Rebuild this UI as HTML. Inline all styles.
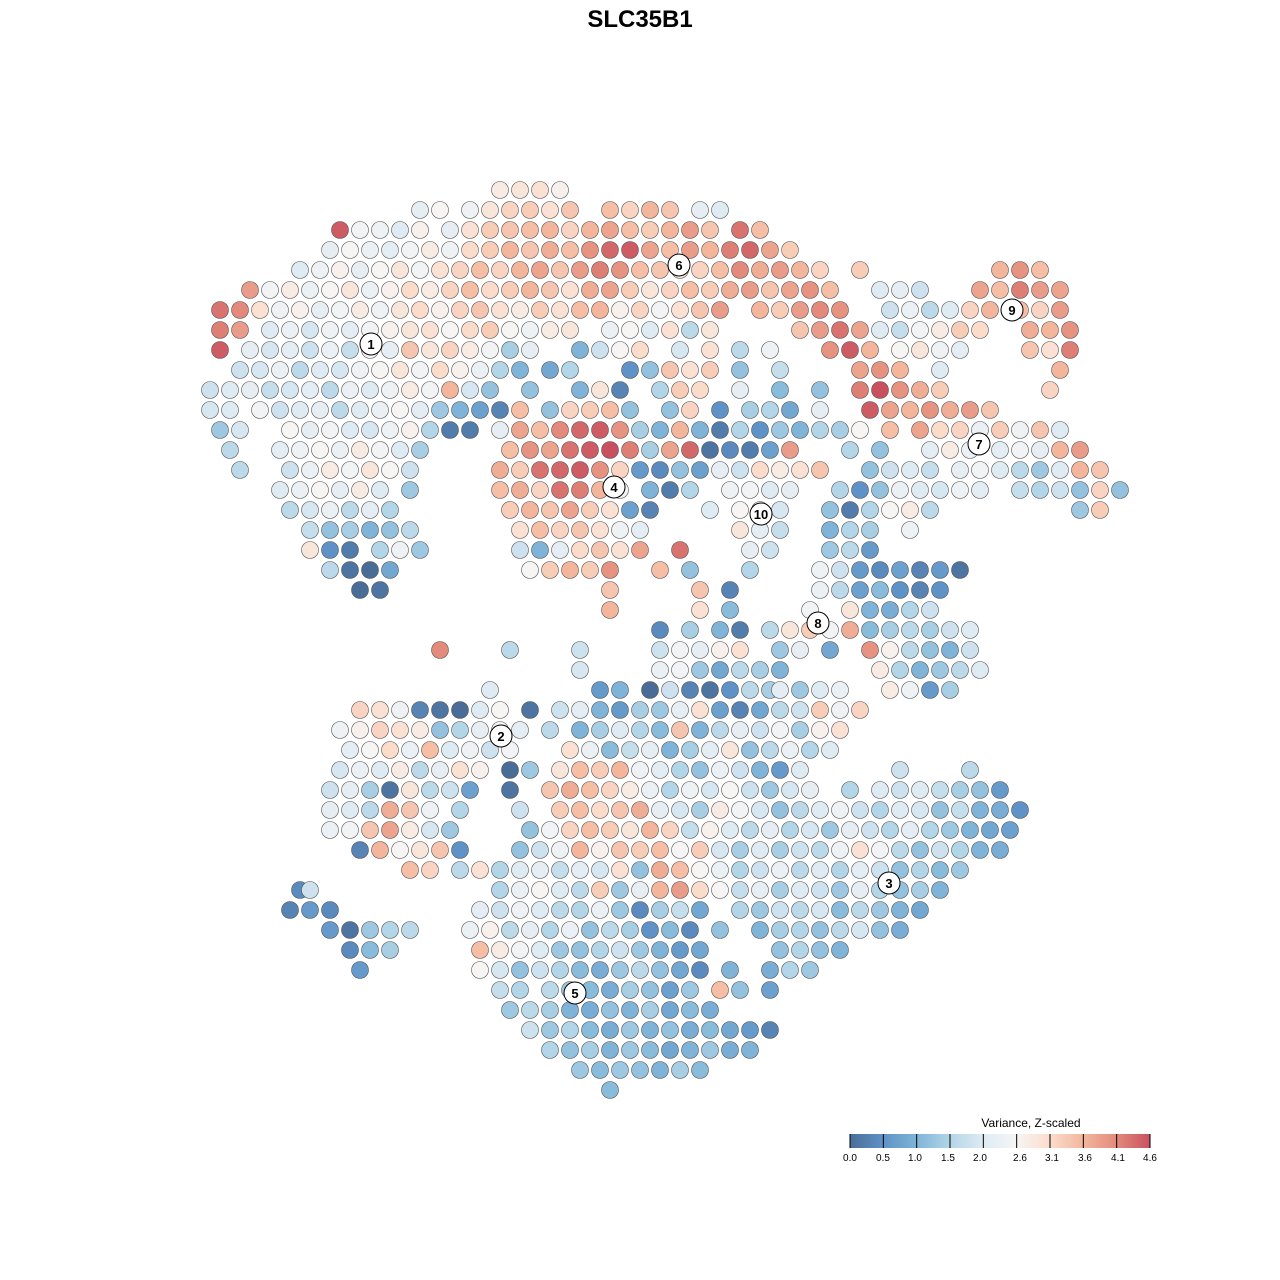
<!DOCTYPE html>
<html><head><meta charset="utf-8"><style>
body{margin:0;background:#fff}
svg{display:block;font-family:"Liberation Sans",sans-serif}
</style></head><body>
<svg id="chart" width="1280" height="1280" viewBox="0 0 1280 1280">
<text x="640" y="27" text-anchor="middle" font-size="24" font-weight="bold">SLC35B1</text>
<g id="pts"></g>
<g id="labs"></g>
<g id="legend">
<text x="1031" y="1127" text-anchor="middle" font-size="12">Variance, Z-scaled</text>
</g>
</svg>
<script>
// rows: "y|x:v x:v ..." (embedding units, value = z-scaled variance)
const rows = [
"19|50:2.8 52:2.9 54:3.0 56:2.7",
"21|42:2.2 44:2.6 47:2.4 49:2.9 51:3.2 53:3.3 55:3.0 57:3.4 61:3.5 63:3.2 65:3.6 67:3.4 70:2.2 72:2.0",
"23|34:4.5 36:2.5 38:2.4 40:2.0 42:2.7 45:2.2 47:3.0 49:3.3 51:3.4 53:3.5 55:3.6 57:3.2 59:3.6 61:3.8 63:3.5 65:3.3 67:3.6 69:3.9 71:3.4 74:4.3 76:3.5",
"25|33:2.2 35:2.6 37:2.3 39:2.1 41:2.5 43:2.8 45:2.4 47:3.1 49:3.3 51:3.6 53:3.4 55:3.7 57:3.5 59:4.0 61:4.4 63:4.5 65:3.8 67:3.5 69:3.9 71:3.6 73:4.2 75:4.4 77:3.8 79:3.3",
"27|30:2.0 32:2.4 34:2.7 36:2.2 38:2.6 40:2.9 42:2.5 44:3.0 46:3.2 48:3.5 50:3.2 52:3.6 54:3.8 56:3.4 58:3.9 60:4.2 62:4.0 64:3.5 66:3.4 68:2.9 70:3.2 72:3.5 74:4.1 76:3.7 78:3.9 80:3.6 82:3.2 86:3.3 100:3.6 102:4.0 104:3.5",
"29|25:3.9 27:2.5 29:2.8 31:2.3 33:2.6 35:2.9 37:2.3 39:2.7 41:3.1 43:2.8 45:3.2 47:3.5 49:3.1 51:3.3 53:3.6 55:3.4 57:3.0 59:3.7 61:3.8 63:3.3 65:2.9 67:3.2 69:3.5 71:3.3 73:3.7 75:3.9 77:3.4 79:3.8 81:4.0 83:3.5 88:2.0 90:2.2 92:1.8 98:3.8 100:3.5 102:4.2 104:3.9 106:3.8",
"31|22:4.3 24:4.1 26:3.0 28:2.4 30:2.7 32:2.2 34:2.5 36:2.8 38:2.4 40:2.9 42:3.1 44:2.7 46:3.2 48:3.4 50:3.0 52:2.8 54:3.3 56:3.0 58:3.5 60:3.6 62:2.7 64:3.2 66:2.5 68:3.0 70:3.4 72:3.9 76:3.6 78:3.3 80:3.9 82:4.1 84:4.0 89:1.8 91:2.3 93:1.6 95:2.0 97:3.2 99:3.6 102:3.5 104:3.2 106:3.9",
"33|22:4.2 24:3.9 27:2.0 29:2.3 31:1.9 33:2.4 35:2.1 37:2.5 39:2.7 41:2.9 43:3.0 45:2.6 47:3.1 49:3.3 51:2.6 53:2.4 55:2.8 57:2.9 61:2.3 63:2.6 65:2.0 67:3.0 69:1.6 71:2.9 80:3.4 82:3.9 84:4.3 86:3.8 88:2.0 90:1.7 92:2.5 94:2.8 96:3.3 98:3.1 103:3.7 105:3.6 107:4.0",
"35|22:4.5 25:2.2 27:1.9 29:2.1 31:1.8 33:2.3 35:1.7 37:2.6 39:2.2 41:3.4 43:2.9 45:3.2 47:2.8 49:2.5 51:1.4 53:2.2 58:1.0 60:1.8 62:2.6 64:3.1 68:1.9 71:3.0 74:1.6 77:2.4 83:4.0 85:4.5 87:3.6 90:2.6 92:2.9 94:2.4 96:2.1 103:3.4 105:3.0 107:4.2",
"37|24:1.8 26:1.9 28:2.3 30:1.6 32:2.0 34:1.9 36:2.4 38:2.6 40:2.9 42:2.5 44:3.1 46:2.7 48:2.3 50:1.5 52:1.0 55:0.8 57:1.5 63:0.5 65:1.2 67:3.4 69:3.0 71:3.3 74:1.2 78:1.7 86:3.8 88:4.0 90:3.6 94:2.0 106:3.6",
"39|21:1.8 23:2.0 25:2.2 27:1.7 29:1.9 31:2.1 33:1.6 35:2.3 37:2.0 39:2.4 41:2.8 43:2.5 45:3.6 47:1.9 49:1.2 53:1.2 58:1.0 60:2.9 62:0.3 66:1.5 68:3.3 70:3.1 74:2.2 78:1.1 82:1.2 86:4.2 88:4.6 90:4.0 92:3.7 94:3.3 105:3.2",
"41|21:1.9 23:2.0 26:2.5 28:1.8 30:2.0 32:2.2 34:1.6 36:2.0 38:2.3 40:2.6 42:2.1 44:1.3 46:1.0 48:0.7 50:0.3 52:3.5 55:1.2 57:3.2 59:3.3 61:3.5 63:1.2 67:1.2 69:3.2 72:0.5 75:1.4 77:1.5 79:0.8 82:2.2 87:4.5 89:3.8 91:3.6 93:4.0 95:3.7 97:3.9 99:3.4",
"43|22:1.3 24:1.9 29:2.6 31:2.2 33:2.5 35:2.0 37:1.9 39:2.4 41:2.7 43:1.5 45:0.2 47:0.2 50:2.2 52:3.8 54:3.5 56:4.1 58:4.4 60:4.5 62:4.0 64:1.4 66:1.0 68:3.6 70:1.0 72:0.2 74:1.5 76:0.5 78:1.3 80:1.0 82:1.5 84:1.4 86:2.6 89:3.5 92:3.8 94:3.1 96:3.2 98:2.3 100:3.3 102:2.4 104:3.4 106:2.0",
"45|23:1.6 28:2.1 30:2.4 32:2.6 34:2.3 36:2.8 38:2.5 40:2.0 42:1.4 51:3.5 53:4.0 55:3.8 57:4.3 59:4.5 61:4.6 63:4.2 65:1.4 67:3.8 69:4.4 71:0.1 73:0.4 75:0.2 77:0.7 79:3.9 85:1.5 88:1.2 93:2.1 95:2.8 97:2.3 100:2.1 102:2.5 104:2.2 106:3.6 108:3.9",
"47|24:1.6 29:1.8 31:2.3 33:2.8 35:2.5 37:2.9 39:2.6 41:1.8 50:3.7 52:3.3 54:4.3 56:4.4 58:4.5 60:4.0 62:3.2 64:0.6 66:0.4 68:1.2 70:0.7 72:2.2 74:1.8 76:3.1 78:2.8 80:3.0 82:3.4 87:1.2 89:1.8 91:2.0 93:1.7 96:2.2 98:2.5 100:2.0 102:1.6 104:1.3 106:2.0 108:3.6 110:3.4",
"49|28:2.0 30:2.3 32:2.6 34:2.2 36:2.8 38:2.0 41:1.3 50:3.5 52:3.7 54:3.2 56:4.3 58:4.2 60:3.6 62:2.5 65:1.0 67:0.2 69:1.5 73:2.4 75:2.5 77:2.0 79:2.2 84:1.5 86:0.5 88:1.2 90:2.3 92:2.0 94:1.9 96:2.4 98:2.1 102:1.7 104:1.5 106:1.8 108:1.2 110:3.2 112:1.2",
"51|29:1.6 31:1.9 33:2.3 35:1.6 37:2.1 39:1.5 51:3.3 53:3.6 55:3.4 57:3.8 59:3.3 61:3.0 63:0.7 65:0.3 71:2.0 74:2.6 76:2.3 78:1.9 83:1.2 85:0.2 87:1.5 89:2.6 91:2.8 93:1.6 108:1.3 110:3.3",
"53|31:1.7 33:1.2 35:1.4 37:1.0 39:1.2 41:1.6 52:3.0 54:3.5 56:3.2 58:3.4 60:3.0 62:2.4 64:2.1 74:2.9 76:2.1 78:1.7 83:1.0 85:1.5 87:1.4 91:2.4",
"55|31:2.9 33:0.5 35:0.2 38:1.5 40:2.4 42:1.3 52:1.8 54:1.0 56:2.1 58:3.1 60:3.4 62:3.0 64:3.8 68:4.3 75:2.2 77:1.8 83:1.3 85:1.6 87:0.6",
"57|33:1.6 35:0.1 37:0.0 39:0.8 53:2.6 55:3.3 57:3.6 59:3.3 61:4.0 66:3.5 69:1.2 75:1.5 82:2.4 84:1.8 86:0.6 88:0.4 90:0.7 92:0.3 94:0.6 96:0.1",
"59|36:0.0 38:0.1 61:3.4 70:3.4 73:0.3 82:2.3 84:1.6 86:0.7 88:1.1 90:0.5 92:0.3 94:0.5",
"61|61:3.6 70:3.0 73:1.1 81:2.5 85:2.9 87:1.0 89:0.9 91:1.5 93:1.8",
"63|66:0.4 69:1.4 72:1.0 74:0.2 77:1.6 79:2.9 81:3.3 83:2.5 85:3.7 87:1.1 89:1.4 91:1.6 93:1.4 95:1.8 97:2.0",
"65|44:4.1 51:1.6 58:1.8 66:1.8 68:2.5 70:2.2 72:2.7 74:3.0 78:1.3 80:2.2 83:0.8 87:4.0 89:2.7 91:1.6 93:1.2 95:1.0 97:1.8",
"67|58:1.9 66:2.3 68:2.5 70:1.3 72:0.8 74:1.6 76:1.4 78:1.0 88:2.8 90:1.5 92:1.0 94:1.3 96:1.6 98:2.0",
"69|49:2.0 60:0.6 62:1.0 65:0.0 67:1.8 69:0.3 71:0.1 73:0.5 75:1.6 77:1.4 78:2.1 80:1.3 82:2.0 84:2.3 89:2.8 91:2.4 93:0.6 95:1.4",
"71|36:3.2 38:3.0 40:2.4 42:0.3 44:0.1 46:0.0 48:2.0 50:2.6 53:0.1 56:1.8 58:2.1 60:1.0 62:0.6 64:1.4 66:1.3 68:2.2 70:3.0 72:0.7 74:0.3 76:0.8 78:1.6 80:1.8 82:3.3 84:2.4 86:3.2",
"73|34:2.4 36:2.7 38:3.2 40:3.0 42:2.8 44:1.2 46:1.5 48:2.2 50:2.5 52:2.1 55:1.6 58:1.0 60:1.4 62:2.0 64:1.5 66:1.1 68:3.4 70:1.0 72:1.6 74:2.2 76:1.8 78:2.5 80:1.4 82:2.7 84:3.0",
"75|35:2.1 37:2.6 39:3.1 41:2.3 43:3.5 45:2.0 47:2.4 49:1.8 51:2.5 57:3.0 59:2.3 61:1.1 63:1.7 65:2.2 67:1.0 69:1.4 71:2.1 73:2.9 75:1.2 77:1.6 79:2.3 81:1.5 83:2.0",
"77|34:1.9 36:2.3 38:2.0 40:2.8 42:1.6 44:2.2 46:3.0 48:2.7 51:0.0 53:1.3 56:2.9 58:3.5 60:3.3 62:3.6 64:2.4 66:2.1 68:1.5 70:1.2 72:2.3 74:1.8 76:1.0 78:0.6 80:2.0 90:1.8 97:1.6",
"79|33:1.8 35:2.2 37:1.4 39:0.1 41:2.9 43:1.6 45:1.8 47:0.7 51:0.1 55:3.4 57:3.7 59:3.5 61:3.2 63:2.8 65:2.3 67:1.5 69:2.4 71:1.9 73:2.6 75:1.8 77:1.3 79:1.9 81:2.2 85:1.5 88:2.0 90:1.8 92:2.0 94:1.7 96:1.4 98:1.2 100:0.6",
"81|33:2.2 35:2.0 37:1.6 39:3.7 41:3.4 43:2.4 46:1.5 52:1.8 56:3.3 58:3.5 60:3.1 62:3.4 64:3.7 66:2.2 68:1.9 70:1.4 72:2.8 74:2.5 76:1.9 78:1.2 80:1.6 82:2.0 84:2.4 86:1.8 88:1.5 90:2.0 92:1.9 94:1.2 96:1.7 98:1.0 100:0.9 102:0.5",
"83|33:2.3 35:2.5 37:3.4 39:3.8 41:2.8 43:1.9 45:1.3 53:1.2 55:2.5 57:3.2 59:3.5 61:3.3 63:2.9 65:3.6 67:3.2 69:1.7 71:2.7 73:2.0 75:1.6 77:2.2 79:1.5 81:1.9 83:1.3 85:2.2 87:1.8 89:1.5 91:2.1 93:1.5 95:1.3 97:1.0 99:0.8 101:0.7",
"85|36:0.3 38:3.6 40:2.6 42:2.9 44:3.4 46:0.5 52:1.2 54:1.8 56:2.4 58:3.6 60:2.7 62:3.4 64:3.3 66:3.5 68:2.6 70:3.3 72:1.9 74:1.4 76:2.0 78:1.4 80:1.8 82:1.6 84:2.4 86:3.0 88:2.5 90:1.6 92:1.2 94:1.8 96:1.5 98:1.0 100:0.9",
"87|41:3.5 43:3.2 46:1.6 48:3.0 50:1.5 52:2.0 54:2.2 56:1.7 58:2.1 60:1.9 62:3.0 64:1.2 66:3.7 68:3.5 70:2.6 72:2.3 74:1.5 76:1.8 78:2.3 80:1.6 82:2.0 84:1.5 86:2.1 88:1.8 90:1.2 92:1.5 94:1.1 96:1.3",
"89|30:0.4 31:1.8 50:1.5 52:2.3 54:2.6 56:2.0 58:1.6 60:3.3 62:1.3 64:2.2 66:3.6 68:3.9 70:3.1 72:2.6 74:1.7 76:2.2 78:1.4 80:2.0 82:1.8 84:1.3 86:2.2 88:1.5 90:1.2 92:1.4 94:1.0",
"91|29:0.3 31:0.6 33:0.4 48:2.1 50:1.8 52:2.4 54:2.0 56:1.6 58:1.5 60:2.3 62:1.3 64:0.4 66:1.4 68:1.7 70:0.8 74:1.5 76:1.3 78:1.8 80:1.6 82:1.9 84:1.1 86:1.6 88:1.3 90:1.0 92:0.8",
"93|33:0.6 35:0.1 37:1.3 39:1.5 41:1.6 47:2.3 49:2.7 51:1.6 53:2.2 55:1.5 57:2.3 59:1.2 61:1.6 63:1.4 65:0.5 67:1.1 69:0.4 72:1.2 76:1.0 78:1.4 80:1.5 82:1.2 84:1.6 86:1.9 88:1.2 90:0.9",
"95|35:0.4 37:1.1 39:1.4 48:3.5 50:2.8 52:2.5 54:2.0 56:1.3 58:1.2 60:1.5 62:1.8 64:1.3 66:1.0 68:0.6 70:0.8 78:1.2 80:1.5 82:1.2 84:1.0",
"97|36:0.6 48:2.6 50:1.9 52:1.2 54:1.8 56:1.5 58:1.1 60:0.9 62:1.3 64:1.6 66:1.2 68:0.8 70:0.4 73:1.0 77:0.9 79:1.5 81:1.3",
"99|50:1.7 52:1.5 55:1.6 57:1.3 59:1.1 61:0.9 63:1.4 65:1.2 67:0.7 69:1.3 72:3.5 74:1.2 77:0.7",
"101|51:1.3 53:1.6 55:1.4 57:1.0 59:0.9 61:1.2 63:1.0 65:1.4 67:0.8 69:1.1 71:0.9",
"103|53:1.8 55:1.3 57:1.5 59:1.1 61:0.9 63:1.3 65:1.0 67:1.2 69:0.9 71:1.1 73:0.8 75:0.6 77:0.3",
"105|55:1.5 57:1.2 59:1.4 61:1.0 63:1.3 65:1.1 67:0.8 69:1.0 71:1.3 73:0.9 75:1.0",
"107|58:1.3 60:1.1 62:1.3 64:1.2 66:1.0 68:1.4 70:1.1",
"109|61:1.1"
];
const clusterIds = ["1","6","9","4","10","7","8","2","3","5"];
const clusterX = [37.1,67.9,101.2,61.4,76.1,97.9,81.8,50.1,88.9,57.5];
const clusterY = [34.4,26.5,31.0,48.7,51.4,44.4,62.3,73.6,88.3,99.3];
const legendTicks = [0.0,0.5,1.0,1.5,2.0,2.6,3.1,3.6,4.1,4.6];
const legendColors = ["#4a6d98","#5f93c7","#7fb4d8","#b2d5e7","#dfebf3","#f6f5f4","#fbdccb","#f3b69c","#e38a7c","#c9515f"];

const xScale = d => d*10;
const yScale = d => d*10;
const NS="http://www.w3.org/2000/svg";
function hex(h){return [1,3,5].map(i=>parseInt(h.substr(i,2),16));}
function color(v){
  v=Math.max(0,Math.min(4.6,v));
  for(let i=0;i<legendTicks.length-1;i++){
    if(v<=legendTicks[i+1]){
      const t=(v-legendTicks[i])/(legendTicks[i+1]-legendTicks[i]);
      const a=hex(legendColors[i]),b=hex(legendColors[i+1]);
      return "rgb("+a.map((c,k)=>Math.round(c+(b[k]-c)*t)).join(",")+")";
    }
  }
  return legendColors[legendColors.length-1];
}
const pg=document.getElementById("pts");
rows.forEach(r=>{
  const [ys,rest]=r.split("|");
  const y=+ys;
  rest.split(" ").forEach(p=>{
    const [xs,vs]=p.split(":");
    const c=document.createElementNS(NS,"circle");
    c.setAttribute("cx",xScale(+xs));
    c.setAttribute("cy",yScale(y));
    c.setAttribute("r",8.5);
    c.setAttribute("fill",color(+vs));
    c.setAttribute("stroke","#555");
    c.setAttribute("stroke-width","0.6");
    
    
    pg.appendChild(c);
  });
});
const lg=document.getElementById("labs");
clusterIds.forEach((id,i)=>{
  const g=document.createElementNS(NS,"g");
  
  
  const c=document.createElementNS(NS,"circle");
  c.setAttribute("cx",xScale(clusterX[i]));c.setAttribute("cy",yScale(clusterY[i]));
  c.setAttribute("r",11);c.setAttribute("fill","#fff");c.setAttribute("stroke","#000");
  const t=document.createElementNS(NS,"text");
  t.setAttribute("x",xScale(clusterX[i]));t.setAttribute("y",yScale(clusterY[i])+5);
  t.setAttribute("text-anchor","middle");t.setAttribute("font-size","13");t.setAttribute("font-weight","bold");
  t.textContent=id;
  g.appendChild(c);g.appendChild(t);lg.appendChild(g);
});
// legend
const leg=document.getElementById("legend");
const lx0=850,lx1=1150,ly=1134,lh=14;
const defs=document.createElementNS(NS,"defs");
const grad=document.createElementNS(NS,"linearGradient");
grad.setAttribute("id","lgrad");
legendTicks.forEach((v,i)=>{
  const s=document.createElementNS(NS,"stop");
  s.setAttribute("offset",(i/(legendTicks.length-1)));
  s.setAttribute("stop-color",legendColors[i]);
  grad.appendChild(s);
});
defs.appendChild(grad);leg.appendChild(defs);
const bar=document.createElementNS(NS,"rect");
bar.setAttribute("x",lx0);bar.setAttribute("y",ly);bar.setAttribute("width",lx1-lx0);bar.setAttribute("height",lh);
bar.setAttribute("fill","url(#lgrad)");


leg.appendChild(bar);
const tickPx=[850,883,915,948,980,1020,1052,1085,1118,1150];
legendTicks.forEach((v,i)=>{
  const x=lx0+(lx1-lx0)*i/(legendTicks.length-1);
  const l=document.createElementNS(NS,"line");
  l.setAttribute("x1",x);l.setAttribute("x2",x);l.setAttribute("y1",ly);l.setAttribute("y2",ly+lh);
  l.setAttribute("stroke","#000");l.setAttribute("stroke-width","1");
  
  
  leg.appendChild(l);
  const t=document.createElementNS(NS,"text");
  t.setAttribute("x",tickPx[i]);t.setAttribute("y",ly+lh+13);t.setAttribute("text-anchor","middle");
  t.setAttribute("font-size","10");t.textContent=v.toFixed(1);
  
  
  leg.appendChild(t);
});
</script>
</body></html>
